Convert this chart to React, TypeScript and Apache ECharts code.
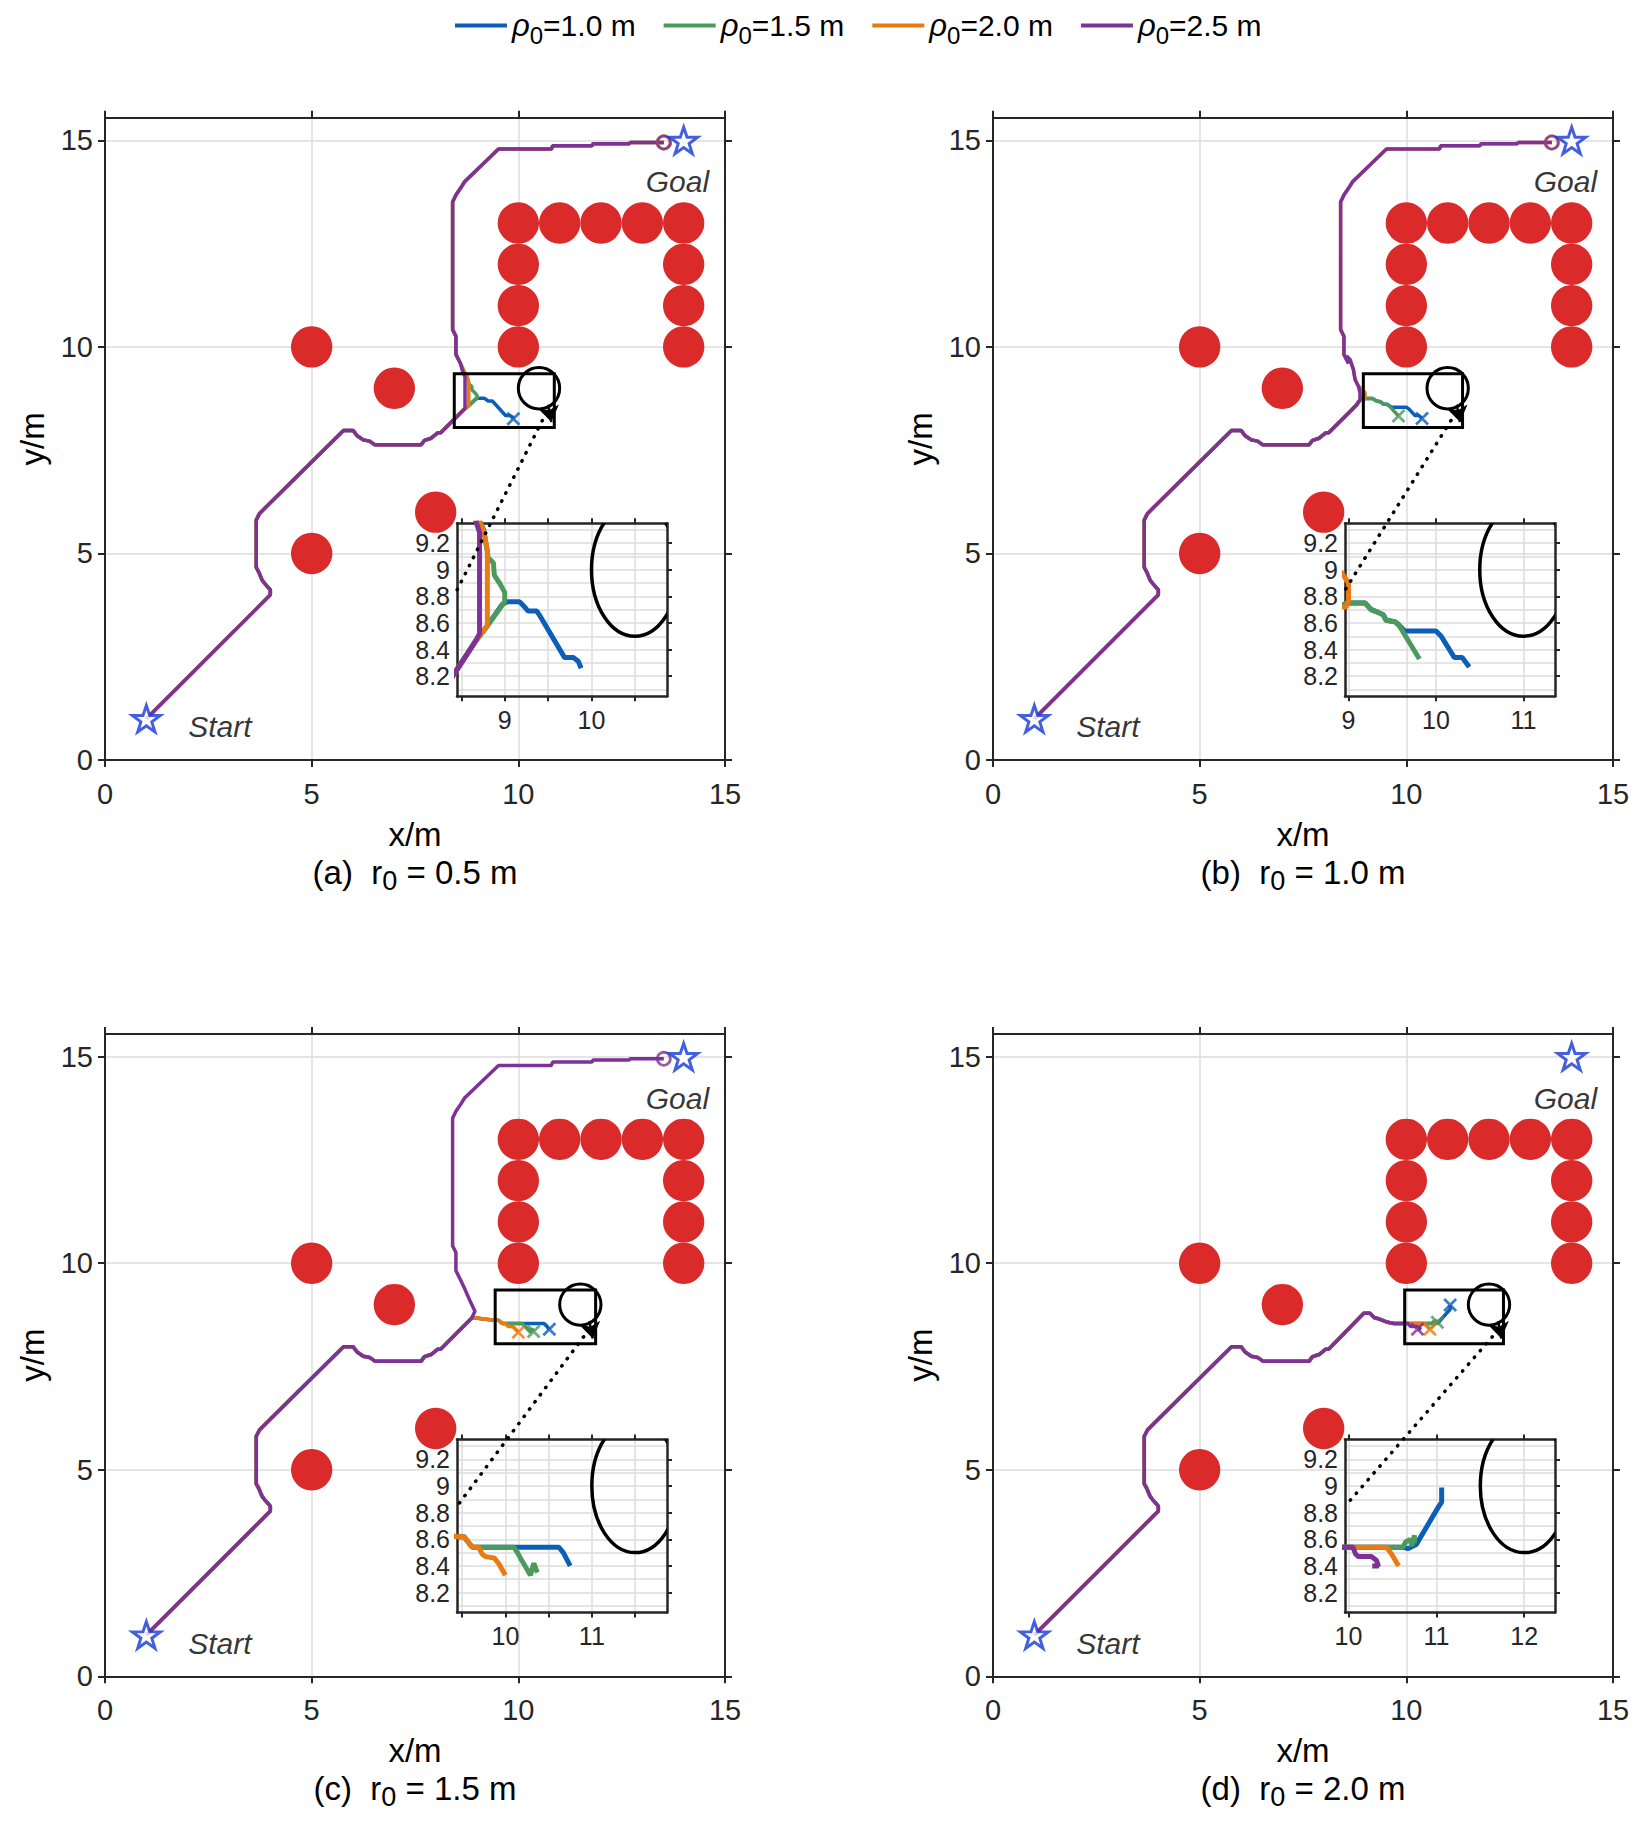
import React, { useEffect, useRef } from "react";
import * as echarts from "echarts";

// ---------------- data ----------------
const SERIES_NAMES = ["ρ0=1.0 m", "ρ0=1.5 m", "ρ0=2.0 m", "ρ0=2.5 m"];
const PANEL_TAGS = ["(a)", "(b)", "(c)", "(d)"];
const R0_VALUES = ["0.5", "1.0", "1.5", "2.0"];

const START = [1, 1];
const GOAL = [14, 15];
const START_LABEL_POS = [2.78, 0.8];
const GOAL_LABEL_POS = [13.85, 14.0];

const STATIC_OBSTACLES = [
  [5, 10], [7, 9], [8, 6], [5, 5],
  [10, 13], [11, 13], [12, 13], [13, 13], [14, 13],
  [10, 12], [10, 11], [10, 10],
  [14, 12], [14, 11], [14, 10],
];
const OBSTACLE_R = 0.5;

const DYN_OBS_X = [10.5, 11, 11.5, 12];
const DYN_OBS_Y = 9;
const DYN_OBS_R = 0.5;

const ZOOM_X = [[8.45, 10.87], [8.96, 11.36], [9.44, 11.87], [9.96, 12.35]];
const ZOOM_Y = [8.05, 9.35];
const INSET_LINK_END = [8.52, 4.12];
const LINK_START_DX = 0.08;
const LINK_START_Y = 8.22;
const ARROW_FROM = [0.22, 8.6];
const ARROW_TO = [0.3, 8.18];

const MAIN_X_RANGE = [0, 15];
const MAIN_Y_RANGE = [0, 15.55];
const MAIN_TICKS = [0, 5, 10, 15];

const INSET_X_TICKS = [[8.5, 9, 9.5, 10, 10.5], [9, 10, 11], [9.5, 10, 10.5, 11, 11.5], [10, 11, 12]];
const INSET_X_LABELS = [[9, 10], [9, 10, 11], [10, 11], [10, 11, 12]];
const INSET_Y_GRID = [8.1, 8.2, 8.3, 8.4, 8.5, 8.6, 8.7, 8.8, 8.9, 9.0, 9.1, 9.2, 9.3];
const INSET_Y_LABELS = [8.2, 8.4, 8.6, 8.8, 9.0, 9.2];

// shared start of every trajectory
const PATH_LOWER = [
  [1, 1], [4, 4], [4, 4.12], [3.85, 4.29], [3.8, 4.36], [3.72, 4.55], [3.66, 4.66],
  [3.66, 5.81], [3.74, 5.97], [5.77, 7.98], [6.0, 7.98], [6.1, 7.85], [6.25, 7.75],
  [6.4, 7.72], [6.53, 7.63], [7.65, 7.63], [7.73, 7.74], [7.89, 7.79], [8.05, 7.92], [8.12, 7.92],
];
// shared end of every trajectory that reaches the goal
const PATH_UPPER = [
  [8.6, 9.6], [8.49, 9.82], [8.49, 10.26], [8.41, 10.42], [8.41, 13.51], [8.49, 13.68],
  [8.6, 13.84], [8.7, 14.0], [9.52, 14.79], [10.8, 14.79], [10.83, 14.87], [11.78, 14.87],
  [11.81, 14.92], [12.68, 14.92], [12.71, 14.95], [13.52, 14.95],
];

// branches, order: rho0 = 1.0 (blue), 1.5 (green), 2.0 (orange), 2.5 (purple)
const BRANCH_A = [
  [[8.66, 8.46], [8.8, 8.58], [8.97, 8.74], [9.03, 8.76], [9.17, 8.76], [9.23, 8.72], [9.27, 8.69], [9.37, 8.69], [9.4, 8.66], [9.69, 8.34], [9.79, 8.34], [9.85, 8.31], [9.88, 8.26]],
  [[8.66, 8.46], [8.8, 8.58], [9.0, 8.76], [9.0, 8.83], [8.94, 8.9], [8.88, 8.96], [8.87, 9.05], [8.81, 9.09], [8.79, 9.17], [8.76, 9.3], [8.7, 9.38]],
  [[8.66, 8.46], [8.8, 8.58], [8.8, 9.15], [8.76, 9.28], [8.7, 9.38]],
  [[8.66, 8.46], [8.71, 8.52], [8.71, 9.28], [8.66, 9.38]],
];
const BRANCH_B = [
  [[8.56, 8.36], [8.8, 8.6], [8.88, 8.72], [8.98, 8.75], [9.19, 8.75], [9.26, 8.7], [9.34, 8.68], [9.4, 8.66], [9.43, 8.62], [9.53, 8.61], [9.57, 8.59], [9.64, 8.54], [10.0, 8.54], [10.06, 8.5], [10.21, 8.34], [10.3, 8.34], [10.38, 8.27]],
  [[8.56, 8.36], [8.8, 8.6], [8.88, 8.72], [8.98, 8.75], [9.19, 8.75], [9.26, 8.7], [9.34, 8.68], [9.4, 8.66], [9.43, 8.62], [9.53, 8.61], [9.58, 8.58], [9.81, 8.33]],
  [[8.56, 8.36], [8.8, 8.6], [8.88, 8.72], [8.97, 8.72], [9.0, 8.76], [9.0, 8.9], [8.92, 8.98], [8.84, 9.05], [8.76, 9.21], [8.72, 9.45], [8.64, 9.69], [8.55, 9.78]],
  [[8.56, 8.36], [8.8, 8.6], [8.88, 8.72], [8.88, 8.89], [8.84, 9.05], [8.76, 9.21], [8.72, 9.45], [8.64, 9.69], [8.55, 9.78]],
];
const BRANCH_C = [
  [[8.56, 8.36], [8.87, 8.67], [8.95, 8.68], [9.15, 8.65], [9.44, 8.62], [9.52, 8.62], [9.58, 8.57], [9.62, 8.54], [10.1, 8.54], [10.62, 8.54], [10.67, 8.5], [10.75, 8.4]],
  [[8.56, 8.36], [8.87, 8.67], [8.95, 8.68], [9.15, 8.65], [9.44, 8.62], [9.52, 8.62], [9.58, 8.57], [9.62, 8.54], [10.1, 8.54], [10.14, 8.5], [10.19, 8.44], [10.29, 8.33], [10.31, 8.38], [10.33, 8.42], [10.35, 8.38], [10.37, 8.35]],
  [[8.56, 8.36], [8.87, 8.67], [8.95, 8.68], [9.15, 8.65], [9.44, 8.62], [9.52, 8.62], [9.58, 8.57], [9.62, 8.54], [9.69, 8.54], [9.73, 8.49], [9.77, 8.47], [9.87, 8.46], [9.92, 8.42], [10.0, 8.33]],
  [[8.56, 8.36], [8.87, 8.67], [8.95, 8.84], [8.83, 9.09], [8.7, 9.39]],
];
const BRANCH_D_COMMON = [[8.97, 8.79], [9.12, 8.79], [9.23, 8.68], [9.35, 8.65], [9.55, 8.57], [9.7, 8.54], [9.98, 8.54]];
const BRANCH_D = [
  [...BRANCH_D_COMMON, [10.43, 8.54], [10.62, 8.54], [10.68, 8.53], [10.77, 8.56], [11.02, 8.84], [11.06, 8.88], [11.06, 8.99]],
  [...BRANCH_D_COMMON, [10.43, 8.54], [10.62, 8.54], [10.65, 8.58], [10.7, 8.6], [10.72, 8.55], [10.75, 8.63], [10.75, 8.57]],
  [...BRANCH_D_COMMON, [10.43, 8.54], [10.49, 8.49], [10.57, 8.4]],
  [...BRANCH_D_COMMON, [10.05, 8.54], [10.08, 8.49], [10.11, 8.47], [10.26, 8.47], [10.32, 8.44], [10.34, 8.4], [10.27, 8.4]],
];
const BRANCHES = [BRANCH_A, BRANCH_B, BRANCH_C, BRANCH_D];
const REACHED = [
  [false, true, true, true],
  [false, false, true, true],
  [false, false, false, true],
  [false, false, false, false],
];

// ---------------- style / layout ----------------
const FONT = "'Liberation Sans', Arial, Helvetica, sans-serif";
const COLORS = ["#0B5FB8", "#4C9A5C", "#EC7A12", "#7E3196"];
const RED = "#DA2A2A";
const STAR_BLUE = "#1638D6";
const AXIS_COLOR = "#262626";
const GRID_COLOR = "#DCDCDC";

const PANEL_LEFT = [105, 993, 105, 993];
const PANEL_TOP = [117.7, 117.7, 1034, 1034];
const PANEL_W = 620;
const PANEL_H = 642.3;
const INSET_DX = 352;
const INSET_DY = 405.5;
const INSET_W = 210;
const INSET_H = 173;

const TICK_FONT = 29;
const INSET_FONT = 25;
const NAME_FONT = 33;

const STAR_PATH = (() => {
  let d = "";
  for (let i = 0; i < 10; i++) {
    const a = -Math.PI / 2 + (i * Math.PI) / 5;
    const r = i % 2 === 0 ? 50 : 19.5;
    d += (i === 0 ? "M" : "L") + (50 + r * Math.cos(a)).toFixed(2) + "," + (50 + r * Math.sin(a)).toFixed(2);
  }
  return "path://" + d + "Z";
})();
const X_PATH = "path://M0,0L10,10M10,0L0,10";

const fmt = (v: number) => String(Math.round(v * 10) / 10);

function mainXAxis(i: number, pos: string) {
  return {
    type: "value", gridIndex: i, position: pos, min: MAIN_X_RANGE[0], max: MAIN_X_RANGE[1],
    axisLine: { show: true, onZero: false, lineStyle: { color: AXIS_COLOR, width: 2 } },
    axisTick: { show: true, inside: false, length: 7, customValues: MAIN_TICKS, lineStyle: { color: AXIS_COLOR, width: 2 } },
    axisLabel: { show: pos === "bottom", customValues: MAIN_TICKS, formatter: fmt, fontSize: TICK_FONT, color: AXIS_COLOR, fontFamily: FONT, margin: 19, showMinLabel: true, showMaxLabel: true },
    splitLine: { show: pos === "bottom", lineStyle: { color: GRID_COLOR, width: 1.5 } },
  };
}
function mainYAxis(i: number, pos: string) {
  return {
    type: "value", gridIndex: i, position: pos, min: MAIN_Y_RANGE[0], max: MAIN_Y_RANGE[1],
    axisLine: { show: true, onZero: false, lineStyle: { color: AXIS_COLOR, width: 2 } },
    axisTick: { show: true, inside: false, length: 7, customValues: MAIN_TICKS, lineStyle: { color: AXIS_COLOR, width: 2 } },
    axisLabel: { show: pos === "left", customValues: MAIN_TICKS, formatter: fmt, fontSize: TICK_FONT, color: AXIS_COLOR, fontFamily: FONT, margin: 12, showMinLabel: true, showMaxLabel: true },
    splitLine: { show: pos === "left", lineStyle: { color: GRID_COLOR, width: 1.5 } },
  };
}
function insetXAxis(i: number, pos: string) {
  return {
    type: "value", gridIndex: 4 + i, position: pos, min: ZOOM_X[i][0], max: ZOOM_X[i][1],
    axisLine: { show: true, onZero: false, lineStyle: { color: AXIS_COLOR, width: 2.5 } },
    axisTick: { show: true, inside: false, length: 5, customValues: INSET_X_TICKS[i], lineStyle: { color: AXIS_COLOR, width: 2 } },
    axisLabel: { show: pos === "bottom", customValues: INSET_X_LABELS[i], formatter: fmt, fontSize: INSET_FONT, color: AXIS_COLOR, fontFamily: FONT, margin: 11, showMinLabel: true, showMaxLabel: true },
    splitLine: { show: pos === "bottom", lineStyle: { color: GRID_COLOR, width: 1.5 } },
  };
}
function insetYAxis(i: number, pos: string) {
  const left = pos === "left";
  return {
    type: "value", gridIndex: 4 + i, position: pos, min: ZOOM_Y[0], max: ZOOM_Y[1],
    axisLine: { show: true, onZero: false, lineStyle: { color: AXIS_COLOR, width: 2.5 } },
    axisTick: { show: !left, inside: false, length: 5, customValues: left ? INSET_Y_GRID : INSET_Y_LABELS, lineStyle: { color: AXIS_COLOR, width: 2 } },
    axisLabel: {
      show: left, customValues: INSET_Y_LABELS, formatter: fmt, fontSize: INSET_FONT, lineHeight: 24,
      color: AXIS_COLOR, fontFamily: FONT, margin: 7, showMinLabel: true, showMaxLabel: true, hideOverlap: false,
    },
    splitLine: { show: left, lineStyle: { color: GRID_COLOR, width: 1.5 } },
  };
}

function buildOption() {
  const grid: any[] = [];
  const xAxis: any[] = [];
  const yAxis: any[] = [];
  const series: any[] = [];
  const graphic: any[] = [];

  for (let i = 0; i < 4; i++) {
    grid.push({ left: PANEL_LEFT[i], top: PANEL_TOP[i], width: PANEL_W, height: PANEL_H, outerBoundsMode: "none" });
  }
  for (let i = 0; i < 4; i++) {
    grid.push({ left: PANEL_LEFT[i] + INSET_DX, top: PANEL_TOP[i] + INSET_DY, width: INSET_W, height: INSET_H, outerBoundsMode: "none" });
  }
  for (let i = 0; i < 4; i++) {
    xAxis.push(mainXAxis(i, "bottom"), mainXAxis(i, "top"));
    yAxis.push(mainYAxis(i, "left"), mainYAxis(i, "right"));
  }
  for (let i = 0; i < 4; i++) {
    xAxis.push(insetXAxis(i, "bottom"), insetXAxis(i, "top"));
    yAxis.push(insetYAxis(i, "left"), insetYAxis(i, "right"));
  }

  for (let i = 0; i < 4; i++) {
    const mx = 2 * i;
    const ix = 8 + 2 * i;
    const paths = BRANCHES[i].map((b, k) => [...PATH_LOWER, ...b, ...(REACHED[i][k] ? PATH_UPPER : [])]);
    const cx = DYN_OBS_X[i];

    // static obstacles
    series.push({
      type: "custom", xAxisIndex: mx, yAxisIndex: mx, silent: true, z: 1,
      data: STATIC_OBSTACLES,
      renderItem: (_p: any, api: any) => {
        const c = api.coord([api.value(0), api.value(1)]);
        const s = api.size([OBSTACLE_R, OBSTACLE_R]);
        return { type: "circle", shape: { cx: c[0], cy: c[1], r: s[0] }, style: { fill: RED } };
      },
    });
    // trajectories
    paths.forEach((p, k) => {
      series.push({
        type: "line", name: SERIES_NAMES[k], xAxisIndex: mx, yAxisIndex: mx, data: p,
        showSymbol: false, symbol: "none", silent: true, color: COLORS[k],
        lineStyle: { color: COLORS[k], width: 3.5 }, z: 3,
      });
    });
    // dynamic obstacle
    series.push({
      type: "custom", xAxisIndex: mx, yAxisIndex: mx, silent: true, z: 4,
      data: [[cx, DYN_OBS_Y]],
      renderItem: (_p: any, api: any) => {
        const c = api.coord([api.value(0), api.value(1)]);
        const s = api.size([DYN_OBS_R, DYN_OBS_R]);
        return { type: "ellipse", shape: { cx: c[0], cy: c[1], rx: s[0], ry: s[1] }, style: { fill: "none", stroke: "#000", lineWidth: 3 } };
      },
    });
    // zoom rectangle
    series.push({
      type: "custom", xAxisIndex: mx, yAxisIndex: mx, silent: true, z: 4,
      dimensions: ["x0", "x1", "y0", "y1"], encode: { x: [0, 1], y: [2, 3] },
      data: [[ZOOM_X[i][0], ZOOM_X[i][1], ZOOM_Y[0], ZOOM_Y[1]]],
      renderItem: (_p: any, api: any) => {
        const p0 = api.coord([api.value(0), api.value(3)]);
        const p1 = api.coord([api.value(1), api.value(2)]);
        return { type: "rect", shape: { x: p0[0], y: p0[1], width: p1[0] - p0[0], height: p1[1] - p0[1] }, style: { fill: "none", stroke: "#000", lineWidth: 3 } };
      },
    });
    // arrow of dynamic obstacle
    series.push({
      type: "lines", coordinateSystem: "cartesian2d", xAxisIndex: mx, yAxisIndex: mx, silent: true, z: 5,
      data: [{ coords: [[cx + ARROW_FROM[0], ARROW_FROM[1]], [cx + ARROW_TO[0], ARROW_TO[1]]] }],
      symbol: ["none", "arrow"], symbolSize: [12, 16],
      lineStyle: { color: "#000", width: 2.5, opacity: 1 },
    });
    // dotted connector
    series.push({
      type: "lines", coordinateSystem: "cartesian2d", xAxisIndex: mx, yAxisIndex: mx, silent: true, z: 6,
      data: [{ coords: [[cx + LINK_START_DX, LINK_START_Y], INSET_LINK_END] }],
      symbol: ["none", "none"],
      lineStyle: { color: "#000", width: 3.5, type: [0.5, 8.5], cap: "round", opacity: 1 },
    });
    // end markers
    paths.forEach((p, k) => {
      const last = p[p.length - 1];
      series.push({
        type: "scatter", xAxisIndex: mx, yAxisIndex: mx, silent: true, z: 7,
        data: [{ value: last, symbol: REACHED[i][k] ? "circle" : X_PATH, symbolSize: REACHED[i][k] ? 13 : 12 }],
        itemStyle: { color: "rgba(0,0,0,0)", borderColor: COLORS[k], borderWidth: 2.8 },
      });
    });
    // start / goal stars
    series.push({
      type: "scatter", xAxisIndex: mx, yAxisIndex: mx, silent: true, z: 8,
      data: [START, GOAL], symbol: STAR_PATH, symbolSize: 28, symbolKeepAspect: true,
      itemStyle: { color: "#fff", borderColor: STAR_BLUE, borderWidth: 3 },
    });
    // Start / Goal labels
    series.push({
      type: "scatter", xAxisIndex: mx, yAxisIndex: mx, silent: true, z: 8, symbolSize: 1,
      itemStyle: { color: "rgba(0,0,0,0)" },
      data: [{ value: START_LABEL_POS, name: "Start" }, { value: GOAL_LABEL_POS, name: "Goal" }],
      label: { show: true, position: "inside", formatter: "{b}", fontSize: 30, fontStyle: "italic", color: "#000", fontFamily: FONT },
    });

    // inset
    series.push({
      type: "custom", xAxisIndex: ix, yAxisIndex: ix, silent: true, clip: true, z: 4,
      data: [[cx, DYN_OBS_Y]],
      renderItem: (_p: any, api: any) => {
        const c = api.coord([api.value(0), api.value(1)]);
        const s = api.size([DYN_OBS_R, DYN_OBS_R]);
        return { type: "ellipse", shape: { cx: c[0], cy: c[1], rx: s[0], ry: s[1] }, style: { fill: "none", stroke: "#000", lineWidth: 3.5 } };
      },
    });
    paths.forEach((p, k) => {
      series.push({
        type: "line", name: SERIES_NAMES[k], xAxisIndex: ix, yAxisIndex: ix, data: p, clip: true,
        showSymbol: false, symbol: "none", silent: true, color: COLORS[k],
        lineStyle: { color: COLORS[k], width: 5 }, z: 3,
      });
    });

    // texts
    const centerX = PANEL_LEFT[i] + PANEL_W / 2;
    const bottom = PANEL_TOP[i] + PANEL_H;
    graphic.push({
      type: "text", x: centerX, y: bottom + 74,
      style: { text: "x/m", fontSize: NAME_FONT, fontFamily: FONT, fill: "#000", align: "center", verticalAlign: "middle" },
    });
    graphic.push({
      type: "text", x: PANEL_LEFT[i] - 73, y: PANEL_TOP[i] + PANEL_H / 2, rotation: Math.PI / 2,
      style: { text: "y/m", fontSize: NAME_FONT, fontFamily: FONT, fill: "#000", align: "center", verticalAlign: "middle" },
    });
    graphic.push({
      type: "text", x: centerX, y: bottom + 112,
      style: {
        text: `{a|${PANEL_TAGS[i]}  r}{s|0}{a| = ${R0_VALUES[i]} m}`,
        align: "center", verticalAlign: "middle", fill: "#000",
        rich: {
          a: { fontSize: NAME_FONT, fontFamily: FONT, lineHeight: 44, fill: "#000" },
          s: { fontSize: 27, fontFamily: FONT, lineHeight: 12, verticalAlign: "bottom", fill: "#000" },
        },
      },
    });
  }

  return {
    animation: false,
    backgroundColor: "#fff",
    legend: {
      data: SERIES_NAMES, left: 455, top: 10, padding: 0, itemWidth: 52, itemHeight: 4, itemGap: 28,
      icon: "rect", selectedMode: false,
      formatter: (name: string) => {
        const parts = name.split("0=");
        return `{r|${parts[0]}}{s|0}{t|=${parts[1]}}`;
      },
      textStyle: {
        fontSize: 30, color: "#000", fontFamily: FONT,
        rich: {
          r: { fontSize: 31, fontStyle: "italic", lineHeight: 44, fontFamily: FONT, color: "#000" },
          s: { fontSize: 24, lineHeight: 10, verticalAlign: "bottom", fontFamily: FONT, color: "#000" },
          t: { fontSize: 30, lineHeight: 44, fontFamily: FONT, color: "#000" },
        },
      },
    },
    grid, xAxis, yAxis, series, graphic,
  };
}

export default function App() {
  const ref = useRef<HTMLDivElement>(null);
  useEffect(() => {
    document.body.style.margin = "0";
    const chart = echarts.init(ref.current as HTMLDivElement, null, { renderer: "svg" });
    chart.setOption(buildOption() as any);
    return () => chart.dispose();
  }, []);
  return <div ref={ref} style={{ width: 1640, height: 1828, background: "#fff" }} />;
}
